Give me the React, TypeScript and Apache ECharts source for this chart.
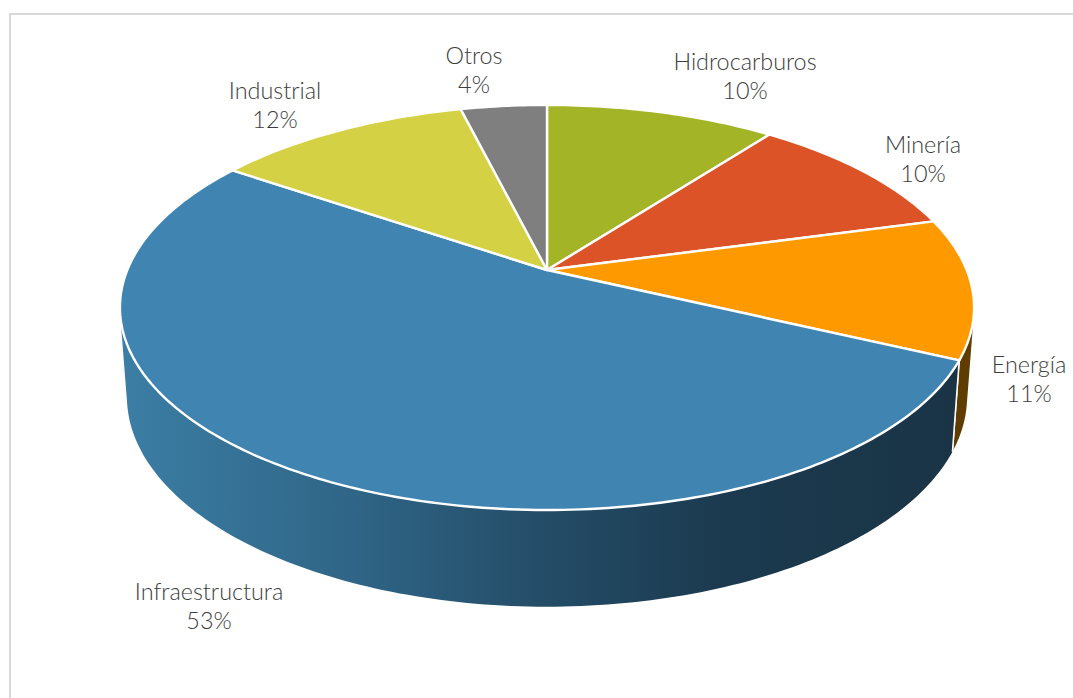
import React, { useEffect, useRef } from "react";
import * as echarts from "echarts";

const categories = ["Hidrocarburos", "Minería", "Energía", "Infraestructura", "Industrial", "Otros"];
const shares = [10.4, 10.4, 11.2, 52.5, 11.6, 3.9];
const percentLabels = ["10%", "10%", "11%", "53%", "12%", "4%"];

const topColors = ["#a4b427", "#dc5327", "#fe9a00", "#4085b1", "#d5d144", "#7f7f7f"];
const wallColors = ["#5b6516", "#7a2e15", "#5f3d00", "", "#767325", "#474747"];
const labelAnchors = [
  [745, 75],
  [923, 158],
  [1029, 378],
  [209, 605],
  [275, 104],
  [474, 69],
];

const W = 1073;
const H = 698;
const CX = 547;
const PERSPECTIVE = 0.185;
const TOP_DISC = { y0: 270, a: 195.6, d: 419.7 };
const LOW_DISC = { y0: 358, a: 202.7, d: 412.8 };

const total = shares.reduce((s, v) => s + v, 0);
const cumulative = shares.map((_, i) => shares.slice(0, i).reduce((s, v) => s + v, 0) / total);

function rimPoint(disc: typeof TOP_DISC, frac: number): number[] {
  const t = frac * Math.PI * 2;
  const u = Math.sin(t);
  const v = Math.cos(t);
  const k = 1 + PERSPECTIVE * v;
  return [CX + (disc.d * u) / k, disc.y0 - (disc.a * v) / k];
}

function arc(disc: typeof TOP_DISC, from: number, to: number): number[][] {
  const steps = Math.max(4, Math.ceil((to - from) * 360));
  const pts: number[][] = [];
  for (let s = 0; s <= steps; s++) pts.push(rimPoint(disc, from + ((to - from) * s) / steps));
  return pts;
}

// The part of the side wall that faces the viewer, found from the rim's own geometry.
function facesViewer(f: number): boolean {
  const e = 0.001;
  const a = rimPoint(TOP_DISC, f);
  const b = rimPoint(LOW_DISC, f);
  const c = rimPoint(TOP_DISC, f + e);
  return (b[0] - a[0]) * (c[1] - a[1]) - (b[1] - a[1]) * (c[0] - a[0]) > 0;
}
let frontFrom = 1;
let frontTo = 0;
for (let n = 0; n <= 1440; n++) {
  const f = n / 1440;
  if (facesViewer(f)) {
    frontFrom = Math.min(frontFrom, f);
    frontTo = Math.max(frontTo, f);
  }
}

const infraWall = new echarts.graphic.LinearGradient(
  120,
  0,
  958,
  0,
  [
    { offset: 0, color: "#3c7ea5" },
    { offset: 0.28, color: "#2f6586" },
    { offset: 0.5, color: "#244d68" },
    { offset: 0.72, color: "#1b3a4f" },
    { offset: 1, color: "#1a3446" },
  ],
  true
);

const wallSeries = {
  type: "custom",
  coordinateSystem: "none",
  silent: true,
  z: 1,
  data: shares,
  renderItem: (params: any) => {
    const i = params.dataIndex;
    const from = Math.max(cumulative[i], frontFrom);
    const to = Math.min(cumulative[i] + shares[i] / total, frontTo);
    if (to <= from) return { type: "group", children: [] };
    const upper = arc(TOP_DISC, from, to);
    const lower = arc(LOW_DISC, from, to).reverse();
    const fill = wallColors[i] || infraWall;
    const edge = (f: number) => {
      const a = rimPoint(TOP_DISC, f);
      const b = rimPoint(LOW_DISC, f);
      return {
        type: "line",
        shape: { x1: a[0], y1: a[1], x2: b[0], y2: b[1] },
        style: { stroke: "#ffffff", lineWidth: 1.5 },
      };
    };
    const children: any[] = [{ type: "polygon", shape: { points: upper.concat(lower) }, style: { fill } }];
    if (from > frontFrom) children.push(edge(from));
    if (to < frontTo) children.push(edge(to));
    return { type: "group", children };
  },
};

const topSeries = {
  type: "custom",
  coordinateSystem: "none",
  silent: true,
  z: 2,
  data: shares,
  renderItem: (params: any) => {
    const i = params.dataIndex;
    const from = cumulative[i];
    const to = from + shares[i] / total;
    return {
      type: "polygon",
      shape: { points: [[CX, TOP_DISC.y0] as number[]].concat(arc(TOP_DISC, from, to)) },
      style: { fill: topColors[i], stroke: "#ffffff", lineWidth: 2.4, lineJoin: "round" },
    };
  },
};

const labelSeries = {
  type: "custom",
  coordinateSystem: "none",
  silent: true,
  z: 3,
  data: categories,
  renderItem: (params: any) => {
    const i = params.dataIndex;
    return {
      type: "text",
      x: labelAnchors[i][0],
      y: labelAnchors[i][1],
      style: {
        text: `${categories[i]}\n${percentLabels[i]}`,
        fill: "#3d3d3d",
        font: "300 23.4px Lato",
        lineHeight: 29,
        align: "center",
        verticalAlign: "middle",
      },
    };
  },
};

export default function App() {
  const ref = useRef<HTMLDivElement>(null);
  useEffect(() => {
    document.body.style.margin = "0";
    const chart = echarts.init(ref.current!, undefined, { renderer: "svg" });
    chart.setOption({
      animation: false,
      backgroundColor: "#ffffff",
      graphic: [
        {
          type: "rect",
          shape: { x: 10, y: 14, width: W + 40, height: H + 40 },
          style: { fill: "transparent", stroke: "#d9d9d9", lineWidth: 2 },
          silent: true,
        },
      ],
      series: [wallSeries, topSeries, labelSeries],
    });
    return () => chart.dispose();
  }, []);
  return <div ref={ref} style={{ position: "fixed", left: 0, top: 0, width: W, height: H, overflow: "hidden" }} />;
}
